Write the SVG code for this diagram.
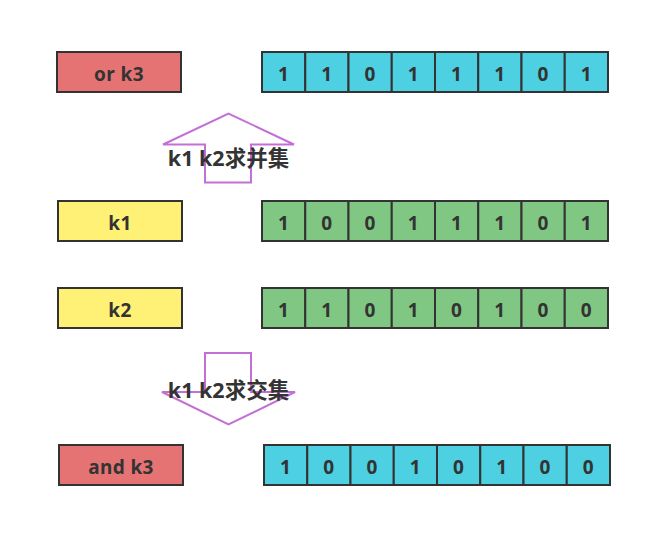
<svg xmlns="http://www.w3.org/2000/svg" width="661" height="538" viewBox="0 0 661 538">
<style>
.box{stroke:#333;stroke-width:2}
.red{fill:#e57373}.yel{fill:#fff176}.cyan{fill:#4dd0e1}.grn{fill:#81c784}
.t{font-family:"Noto Sans","Noto Sans CJK SC",sans-serif;font-weight:bold;font-size:19px;fill:#333;text-anchor:middle;letter-spacing:0.4px}
.a{fill:#fff;stroke:#c36fd6;stroke-width:2}
.al{font-family:"Noto Sans","Noto Sans CJK SC",sans-serif;font-weight:bold;font-size:21.5px;fill:#333;text-anchor:middle}
</style>
<rect width="661" height="538" fill="#fff"/>
<g id="or-k3"><rect class="box red" x="57" y="52" width="124" height="40"/><text class="t" x="119" y="81">or k3</text></g>
<g id="k1"><rect class="box yel" x="58" y="201" width="124" height="40"/><text class="t" x="120" y="230">k1</text></g>
<g id="k2"><rect class="box yel" x="58" y="288" width="124" height="40"/><text class="t" x="120" y="317">k2</text></g>
<g id="and-k3"><rect class="box red" x="59" y="445" width="124" height="40"/><text class="t" x="121" y="474">and k3</text></g>
<g id="row-or">
<rect class="box cyan" x="262" y="52" width="43.25" height="40"/><rect class="box cyan" x="305.25" y="52" width="43.25" height="40"/><rect class="box cyan" x="348.5" y="52" width="43.25" height="40"/><rect class="box cyan" x="391.75" y="52" width="43.25" height="40"/><rect class="box cyan" x="435" y="52" width="43.25" height="40"/><rect class="box cyan" x="478.25" y="52" width="43.25" height="40"/><rect class="box cyan" x="521.5" y="52" width="43.25" height="40"/><rect class="box cyan" x="564.75" y="52" width="43.25" height="40"/>
<text class="t" x="283.6" y="81">1</text><text class="t" x="326.9" y="81">1</text><text class="t" x="370.1" y="81">0</text><text class="t" x="413.4" y="81">1</text><text class="t" x="456.6" y="81">1</text><text class="t" x="499.9" y="81">1</text><text class="t" x="543.1" y="81">0</text><text class="t" x="586.4" y="81">1</text>
</g>
<g id="row-k1">
<rect class="box grn" x="262" y="201" width="43.25" height="40"/><rect class="box grn" x="305.25" y="201" width="43.25" height="40"/><rect class="box grn" x="348.5" y="201" width="43.25" height="40"/><rect class="box grn" x="391.75" y="201" width="43.25" height="40"/><rect class="box grn" x="435" y="201" width="43.25" height="40"/><rect class="box grn" x="478.25" y="201" width="43.25" height="40"/><rect class="box grn" x="521.5" y="201" width="43.25" height="40"/><rect class="box grn" x="564.75" y="201" width="43.25" height="40"/>
<text class="t" x="283.6" y="230">1</text><text class="t" x="326.9" y="230">0</text><text class="t" x="370.1" y="230">0</text><text class="t" x="413.4" y="230">1</text><text class="t" x="456.6" y="230">1</text><text class="t" x="499.9" y="230">1</text><text class="t" x="543.1" y="230">0</text><text class="t" x="586.4" y="230">1</text>
</g>
<g id="row-k2">
<rect class="box grn" x="262" y="288" width="43.25" height="40"/><rect class="box grn" x="305.25" y="288" width="43.25" height="40"/><rect class="box grn" x="348.5" y="288" width="43.25" height="40"/><rect class="box grn" x="391.75" y="288" width="43.25" height="40"/><rect class="box grn" x="435" y="288" width="43.25" height="40"/><rect class="box grn" x="478.25" y="288" width="43.25" height="40"/><rect class="box grn" x="521.5" y="288" width="43.25" height="40"/><rect class="box grn" x="564.75" y="288" width="43.25" height="40"/>
<text class="t" x="283.6" y="317">1</text><text class="t" x="326.9" y="317">1</text><text class="t" x="370.1" y="317">0</text><text class="t" x="413.4" y="317">1</text><text class="t" x="456.6" y="317">0</text><text class="t" x="499.9" y="317">1</text><text class="t" x="543.1" y="317">0</text><text class="t" x="586.4" y="317">0</text>
</g>
<g id="row-and">
<rect class="box cyan" x="264" y="445" width="43.25" height="40"/><rect class="box cyan" x="307.25" y="445" width="43.25" height="40"/><rect class="box cyan" x="350.5" y="445" width="43.25" height="40"/><rect class="box cyan" x="393.75" y="445" width="43.25" height="40"/><rect class="box cyan" x="437" y="445" width="43.25" height="40"/><rect class="box cyan" x="480.25" y="445" width="43.25" height="40"/><rect class="box cyan" x="523.5" y="445" width="43.25" height="40"/><rect class="box cyan" x="566.75" y="445" width="43.25" height="40"/>
<text class="t" x="285.6" y="474">1</text><text class="t" x="328.9" y="474">0</text><text class="t" x="372.1" y="474">0</text><text class="t" x="415.4" y="474">1</text><text class="t" x="458.6" y="474">0</text><text class="t" x="501.9" y="474">1</text><text class="t" x="545.1" y="474">0</text><text class="t" x="588.4" y="474">0</text>
</g>
<g id="connectors">
<g id="union-arrow"><polygon class="a" points="205,182.5 205,144.5 163,144.5 228.5,113.5 294,144.5 251,144.5 251,182.5"/><text class="al" x="228.5" y="166">k1 k2求并集</text></g>
<g id="intersect-arrow"><polygon class="a" points="205,353 251,353 251,392 295,392 228.5,424.5 162,392 205,392"/><text class="al" x="228.5" y="398">k1 k2求交集</text></g>
</g>
</svg>
